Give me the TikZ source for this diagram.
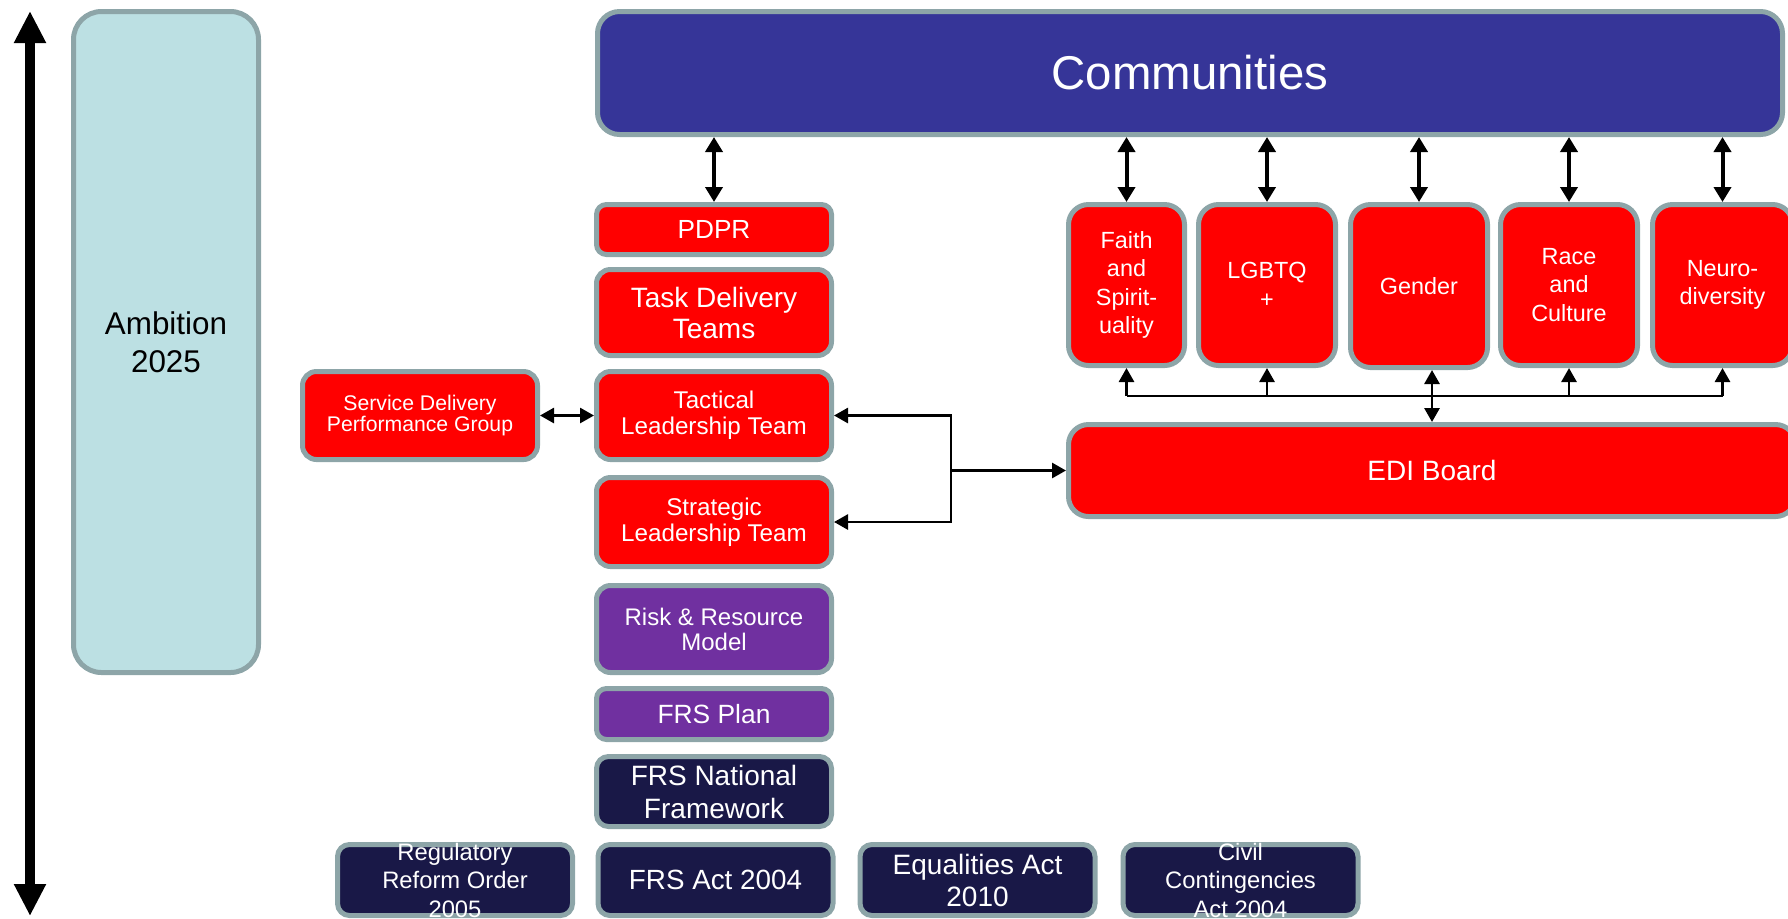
\documentclass[tikz,border=0pt]{standalone}
\usepackage{fontspec}
\setmainfont{Liberation Sans}
\usetikzlibrary{arrows.meta}
\definecolor{bord}{HTML}{8DA5A8}
\definecolor{lblue}{HTML}{BCE0E3}
\definecolor{cblue}{HTML}{363598}
\definecolor{cred}{HTML}{FF0000}
\definecolor{cpurp}{HTML}{7030A0}
\definecolor{cnavy}{HTML}{191847}
\begin{document}
\begin{tikzpicture}[x=0.5pt,y=-0.5pt,
  box/.style={draw=bord, line width=2.5pt, rounded corners=6pt, inner sep=0pt, align=center, text=white},
  redbox/.style={box, fill=cred},
  purpbox/.style={box, fill=cpurp},
  navybox/.style={box, fill=cnavy},
  colbox/.style={minimum width=117.5pt},
  grpbox/.style={redbox, rounded corners=10pt, minimum height=80.5pt, font=\fontsize{11.7}{14.25}\selectfont},
  commarr/.style={line width=2pt, {Triangle[length=7.5pt,width=8.5pt]}-{Triangle[length=7.5pt,width=8.5pt]}},
  thin/.style={line width=1.4pt},
  tip/.style={-{Triangle[length=7pt,width=7.5pt]}},
  dtip/.style={{Triangle[length=7pt,width=7.5pt]}-{Triangle[length=7pt,width=7.5pt]}},
  bigarr/.style={line width=5pt, {Triangle[length=16pt,width=15pt]}-{Triangle[length=16pt,width=15pt]}}
]
\useasboundingbox (0,0) rectangle (1788,918);

% left boxes
\node[box, fill=lblue, text=black, rounded corners=14pt, minimum width=92.5pt, minimum height=330.5pt,
  font=\fontsize{15.7}{18.8}\selectfont] (amb) at (166,342) {Ambition\\2025};

% communities
\node[box, fill=cblue, rounded corners=11pt, minimum width=592.5pt, minimum height=61.5pt,
  font=\fontsize{23.7}{28}\selectfont] (comm) at (1190,73) {Communities};

% central column
\node[redbox, colbox, rounded corners=5pt, minimum height=25pt, font=\fontsize{13.1}{15}\selectfont] (pdpr) at (714,229.5) {PDPR};
\node[redbox, colbox, rounded corners=7pt, minimum height=43pt, font=\fontsize{14}{15.5}\selectfont] (task) at (714,312.5) {Task Delivery\\Teams};
\node[redbox, colbox, rounded corners=7pt, minimum height=44pt, font=\fontsize{12.1}{13}\selectfont] (tact) at (714,415.5) {Tactical\\Leadership Team};
\node[redbox, minimum width=117.5pt, rounded corners=7pt, minimum height=44pt, font=\fontsize{10.6}{9.7}\selectfont] (sdpg) at (420,415.5) {Service Delivery\\Performance Group};
\node[redbox, colbox, rounded corners=7pt, minimum height=44.5pt, font=\fontsize{12.1}{13}\selectfont] (strat) at (714,522) {Strategic\\Leadership Team};
\node[purpbox, colbox, rounded corners=7pt, minimum height=43.5pt, font=\fontsize{12}{12.5}\selectfont] (risk) at (714,629) {Risk \& Resource\\Model};
\node[purpbox, colbox, rounded corners=5pt, minimum height=25.5pt, font=\fontsize{13.2}{15}\selectfont] (plan) at (714,714) {FRS Plan};
\node[navybox, colbox, rounded corners=6pt, minimum height=35pt, font=\fontsize{14}{16.5}\selectfont] (natl) at (714,791.5) {FRS National\\Framework};

% bottom row
\node[navybox, colbox, minimum height=35.5pt,
  label={[align=center, text=white, font=\fontsize{11.9}{14.25}\selectfont]center:Regulatory\\Reform Order\\2005}] (rro) at (455,880) {};
\node[navybox, colbox, minimum height=35.5pt, font=\fontsize{13.9}{16}\selectfont] (act) at (715.5,880) {FRS Act 2004};
\node[navybox, colbox, minimum height=35.5pt, font=\fontsize{14}{16}\selectfont] (eq) at (977.5,880) {Equalities Act\\2010};
\node[navybox, colbox, minimum height=35.5pt,
  label={[align=center, text=white, font=\fontsize{11.9}{14.25}\selectfont]center:Civil\\Contingencies\\Act 2004}] (civ) at (1240.5,880) {};

% groups
\node[grpbox, minimum width=58pt] (faith) at (1126.5,285) {Faith\\and\\Spirit-\\uality};
\node[grpbox, minimum width=68.5pt] (lgbt) at (1267,285) {LGBTQ\\+};
\node[grpbox, minimum width=68.5pt, minimum height=81.5pt] (gender) at (1419,286) {Gender};
\node[grpbox, minimum width=68.5pt] (race) at (1569,285) {Race\\and\\Culture};
\node[grpbox, minimum width=70pt] (neuro) at (1722.5,285) {Neuro-\\diversity};

% EDI board
\node[redbox, rounded corners=10pt, minimum width=363.5pt, minimum height=46pt, font=\fontsize{14}{16}\selectfont] (edi) at (1432,470.5) {EDI Board};

% big arrow
\coordinate (bigtop) at (30,11);
\coordinate (bigbot) at (30,916);
\draw[bigarr] (bigtop) -- (bigbot);

% communities arrows
\draw[commarr] (comm.south -| pdpr.north) -- (pdpr.north);
\draw[commarr] (comm.south -| faith.north) -- (faith.north);
\draw[commarr] (comm.south -| lgbt.north) -- (lgbt.north);
\draw[commarr] (comm.south -| gender.north) -- (gender.north);
\draw[commarr] (comm.south -| race.north) -- (race.north);
\draw[commarr] (comm.south -| neuro.north) -- (neuro.north);

% bus
\coordinate (busy) at (0,396);
\draw[thin] (faith.south |- busy) -- (neuro.south |- busy);
\draw[thin, tip] (faith.south |- busy) -- (faith.south);
\draw[thin, tip] (lgbt.south |- busy) -- (lgbt.south);
\draw[thin, tip] (race.south |- busy) -- (race.south);
\draw[thin, tip] (neuro.south |- busy) -- (neuro.south);
\draw[thin, dtip] (edi.north |- gender.south) -- (edi.north);

% SDPG - tactical
\draw[thin, dtip] (sdpg.east) -- (tact.west);

% bracket to EDI
\coordinate (brk) at (951,0);
\draw[thin, dtip] (tact.east) -- (tact.east -| brk) -- (strat.east -| brk) -- (strat.east);
\draw[thin, tip] (brk |- edi.west) -- (edi.west);
\end{tikzpicture}
\end{document}
